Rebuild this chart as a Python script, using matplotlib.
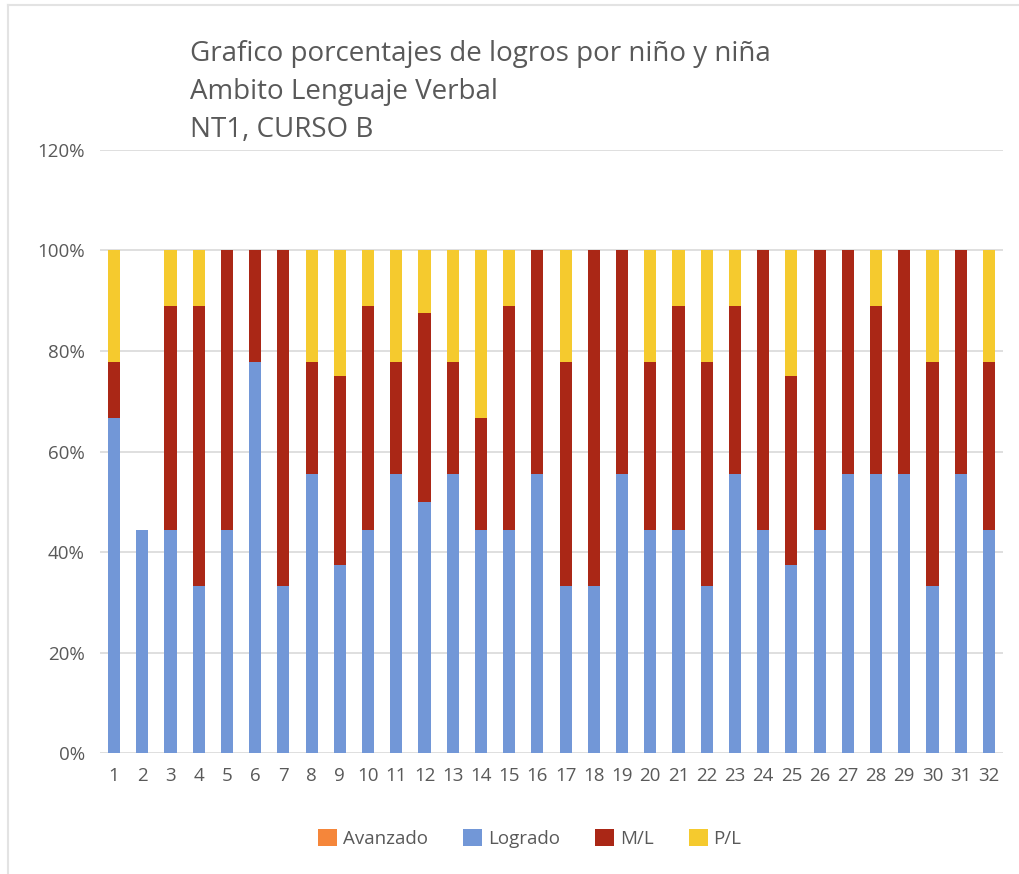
import numpy as np
import matplotlib
matplotlib.use('Agg')
import matplotlib.pyplot as plt
from matplotlib.lines import Line2D
from matplotlib.patches import Patch

ninos = [str(i) for i in range(1, 33)]

# fraction of indicators per child, by level
avanzado = [0.0] * 32
logrado = [6/9, 4/9, 4/9, 3/9, 4/9, 7/9, 3/9, 5/9,
           3/8, 4/9, 5/9, 4/8, 5/9, 4/9, 4/9, 5/9,
           3/9, 3/9, 5/9, 4/9, 4/9, 3/9, 5/9, 4/9,
           3/8, 4/9, 5/9, 5/9, 5/9, 3/9, 5/9, 4/9]
medio_logro = [1/9, 0, 4/9, 5/9, 5/9, 2/9, 6/9, 2/9,
               3/8, 4/9, 2/9, 3/8, 2/9, 2/9, 4/9, 4/9,
               4/9, 6/9, 4/9, 3/9, 4/9, 4/9, 3/9, 5/9,
               3/8, 5/9, 4/9, 3/9, 4/9, 4/9, 4/9, 3/9]
por_lograr = [2/9, 0, 1/9, 1/9, 0, 0, 0, 2/9,
              2/8, 1/9, 2/9, 1/8, 2/9, 3/9, 1/9, 0,
              2/9, 0, 0, 2/9, 1/9, 2/9, 1/9, 0,
              2/8, 0, 0, 1/9, 0, 2/9, 0, 2/9]

series = [('Avanzado', avanzado, '#F5863A'),
          ('Logrado', logrado, '#7297D7'),
          ('M/L', medio_logro, '#AA2716'),
          ('P/L', por_lograr, '#F5CA2E')]

plt.rcParams['font.family'] = ['Open Sans', 'DejaVu Sans']
gris = '#595959'

fig = plt.figure(figsize=(10.19, 8.74), dpi=100)
ax = fig.add_axes([0.0981, 0.1384, 0.8862, 0.6900])

x = np.arange(1, 33)
base = np.zeros(32)
for nombre, vals, color in series:
    vals = np.array(vals, dtype=float)
    ax.bar(x, vals, 0.43, bottom=base, color=color, zorder=3)
    base += vals

ax.set_xlim(0.5, 32.5)
ax.set_ylim(0, 1.2)
ax.set_yticks(np.arange(0, 1.21, 0.2))
ax.set_yticklabels(['%d%%' % round(v * 100) for v in np.arange(0, 1.21, 0.2)])
ax.set_xticks(x)
ax.set_xticklabels(ninos)
ax.tick_params(axis='both', length=0, labelsize=13.5, colors=gris)
ax.tick_params(axis='y', pad=11)
ax.tick_params(axis='x', pad=10)
ax.yaxis.grid(True, color='#D9D9D9', linewidth=1.2, zorder=0)
for s in ax.spines.values():
    s.set_visible(False)

fig.text(0.186, 0.954,
         'Grafico porcentajes de logros por niño y niña\n'
         'Ambito Lenguaje Verbal\nNT1, CURSO B',
         fontsize=20, color=gris, va='top', ha='left', linespacing=1.47)

handles = [Patch(facecolor=c, label=n) for n, v, c in series]
fig.legend(handles=handles, loc='center', bbox_to_anchor=(0.52, 0.041),
           ncol=4, frameon=False, fontsize=13.5, labelcolor=gris,
           handlelength=1.0, handleheight=1.0, handletextpad=0.3,
           columnspacing=1.9)

# chart frame
fig.add_artist(Line2D([0.0075, 1.0], [0.9943, 0.9943], color='#E3E3E3', linewidth=1.5))
fig.add_artist(Line2D([0.0075, 0.0075], [0.0, 0.9943], color='#E3E3E3', linewidth=1.5))

fig.savefig('out.png', dpi=100)
